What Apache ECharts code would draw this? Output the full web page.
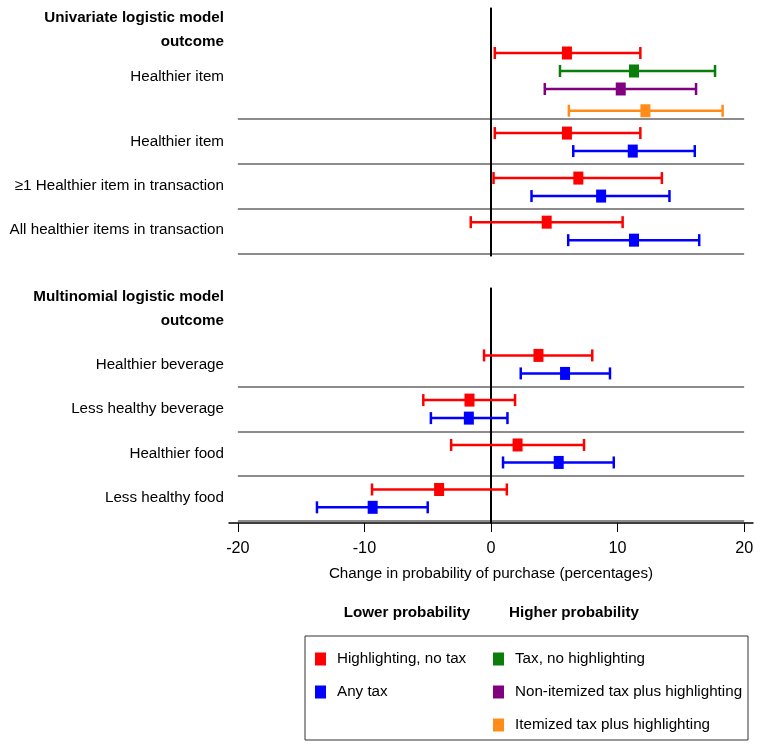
<!DOCTYPE html>
<html>
<head>
<meta charset="utf-8">
<script src="https://cdn.jsdelivr.net/npm/echarts@6/dist/echarts.min.js"></script>
<style>html,body{margin:0;padding:0;background:#fff}#c{width:762px;height:749px}</style>
</head>
<body>
<div id="c"></div>
<script>
// ---------- data ----------
// x-axis ticks
const xTicks = [-20, -10, 0, 10, 20];

// Top panel (univariate logistic model), row positions in row units (1 unit = one bar row)
const topLabels = ['Univariate logistic model\noutcome', 'Healthier item', 'Healthier item', '\u22651 Healthier item in transaction', 'All healthier items in transaction'];
const topLabelPos = [1.22, 3.83, 7.43, 9.87, 12.33];
const topSeparators = [6.18, 8.67, 11.15, 13.63];

const topRedPos = [2.5, 6.95, 9.45, 11.9];
const topRedEst = [6.0, 6.0, 6.9, 4.4];
const topRedLo = [0.3, 0.3, 0.2, -1.6];
const topRedHi = [11.8, 11.8, 13.5, 10.4];

const topBluePos = [7.95, 10.45, 12.9];
const topBlueEst = [11.2, 8.7, 11.3];
const topBlueLo = [6.5, 3.2, 6.1];
const topBlueHi = [16.1, 14.1, 16.45];

const greenPos = [3.5];
const greenEst = [11.3];
const greenLo = [5.45];
const greenHi = [17.7];

const purplePos = [4.5];
const purpleEst = [10.25];
const purpleLo = [4.25];
const purpleHi = [16.2];

const orangePos = [5.71];
const orangeEst = [12.2];
const orangeLo = [6.15];
const orangeHi = [18.3];

// Bottom panel (multinomial logistic model)
const botLabels = ['Multinomial logistic model\noutcome', 'Healthier beverage', 'Less healthy beverage', 'Healthier food', 'Less healthy food'];
const botLabelPos = [1.15, 4.28, 6.68, 9.18, 11.65];
const botSeparators = [5.48, 7.96, 10.44, 12.93];

const botRedPos = [3.74, 6.22, 8.71, 11.18];
const botRedEst = [3.75, -1.7, 2.1, -4.1];
const botRedLo = [-0.55, -5.35, -3.15, -9.4];
const botRedHi = [8.0, 1.9, 7.35, 1.25];

const botBluePos = [4.74, 7.22, 9.68, 12.17];
const botBlueEst = [5.85, -1.75, 5.35, -9.35];
const botBlueLo = [2.35, -4.75, 0.95, -13.75];
const botBlueHi = [9.4, 1.3, 9.7, -5.0];

const seriesNames = ['Highlighting, no tax', 'Any tax', 'Tax, no highlighting', 'Non-itemized tax plus highlighting', 'Itemized tax plus highlighting'];
const seriesColors = ['#ff0000', '#0000ff', '#0a7d0a', '#800080', '#ff8c1a'];

// ---------- chart ----------
const FONT = "'Liberation Sans', Arial, sans-serif";
const FS = 15.2;
const chart = echarts.init(document.getElementById('c'));

function rows(pos, est, lo, hi) {
  return pos.map((p, i) => [p, lo[i], est[i], hi[i]]);
}

function renderItem(params, api) {
  const y = api.value(0), lo = api.value(1), pt = api.value(2), hi = api.value(3);
  const a = api.coord([lo, y]), b = api.coord([hi, y]), c = api.coord([pt, y]);
  const color = api.visual('color');
  const ls = { stroke: color, lineWidth: 2.5 };
  return {
    type: 'group',
    children: [
      { type: 'line', shape: { x1: a[0], y1: a[1], x2: b[0], y2: b[1] }, style: ls },
      { type: 'line', shape: { x1: a[0], y1: a[1] - 6, x2: a[0], y2: a[1] + 6 }, style: ls },
      { type: 'line', shape: { x1: b[0], y1: b[1] - 6, x2: b[0], y2: b[1] + 6 }, style: ls },
      { type: 'rect', shape: { x: c[0] - 5, y: c[1] - 6.5, width: 10, height: 13 }, style: { fill: color } }
    ]
  };
}

function errSeries(name, color, grid, data) {
  return {
    type: 'custom', name: name, xAxisIndex: grid, yAxisIndex: grid,
    itemStyle: { color: color },
    renderItem: renderItem,
    encode: { x: [1, 2, 3], y: 0 },
    data: data, z: 5
  };
}

function refSeries(grid, seps) {
  const sepData = seps.map(s => [
    { coord: [xTicks[0], s], lineStyle: { color: '#8c8c8c', width: 2, type: 'solid' } },
    { coord: [xTicks[xTicks.length - 1], s] }
  ]);
  return {
    type: 'line', xAxisIndex: grid, yAxisIndex: grid, data: [], silent: true,
    markLine: {
      silent: true, symbol: 'none', animation: false,
      label: { show: false },
      data: sepData.concat([{ xAxis: 0, lineStyle: { color: '#000', width: 2, type: 'solid' } }])
    }
  };
}

function yAxisFor(grid, maxV, labels, labelPos) {
  return {
    type: 'value', gridIndex: grid, inverse: true, min: 0, max: maxV,
    axisLine: { show: true, lineStyle: { color: '#000', width: 1.5 } },
    axisTick: { show: false },
    splitLine: { show: false },
    axisLabel: {
      customValues: labelPos, margin: 5,
      color: '#000', fontFamily: FONT, fontSize: FS,
      formatter: function (v) {
        const i = labelPos.findIndex(p => Math.abs(p - v) < 1e-6);
        const t = i >= 0 ? labels[i] : '';
        if (t.indexOf('\n') >= 0) return t.split('\n').map(s => '{h|' + s + '}').join('\n');
        return t;
      },
      rich: { h: { fontWeight: 'bold', fontFamily: FONT, fontSize: FS, color: '#000', align: 'right', lineHeight: 23.5 } }
    }
  };
}

const option = {
  animation: false,
  backgroundColor: '#fff',
  grid: [
    { left: 229, width: 524, top: 8, height: 248, outerBoundsMode: 'none', containLabel: false },
    { left: 229, width: 524, top: 288, height: 235, outerBoundsMode: 'none', containLabel: false }
  ],
  xAxis: [
    { type: 'value', gridIndex: 0, min: -20.7, max: 20.7, show: false },
    {
      type: 'value', gridIndex: 1, min: -20.7, max: 20.7,
      axisLine: { show: true, onZero: false, lineStyle: { color: '#000', width: 1.5 } },
      axisTick: { show: true, customValues: xTicks, length: 9, lineStyle: { color: '#000', width: 1 } },
      axisLabel: { customValues: xTicks, margin: 18, color: '#000', fontFamily: FONT, fontSize: FS + 1 },
      splitLine: { show: false },
      name: 'Change in probability of purchase (percentages)',
      nameLocation: 'middle', nameGap: 43,
      nameTextStyle: { color: '#000', fontFamily: FONT, fontSize: FS }
    }
  ],
  yAxis: [
    yAxisFor(0, 13.78, topLabels, topLabelPos),
    yAxisFor(1, 13.04, botLabels, botLabelPos)
  ],
  legend: [
    {
      data: seriesNames.slice(0, 2), orient: 'vertical', left: 310, top: 646,
      itemWidth: 11, itemHeight: 13, itemGap: 17, icon: 'rect', selectedMode: false,
      textStyle: { color: '#000', fontFamily: FONT, fontSize: FS, lineHeight: 16, padding: [0, 0, 0, 6] }
    },
    {
      data: seriesNames.slice(2), orient: 'vertical', left: 488, top: 646,
      itemWidth: 11, itemHeight: 13, itemGap: 17, icon: 'rect', selectedMode: false,
      textStyle: { color: '#000', fontFamily: FONT, fontSize: FS, lineHeight: 16, padding: [0, 0, 0, 6] }
    }
  ],
  graphic: [
    { type: 'rect', shape: { x: 305, y: 636, width: 443, height: 104 }, style: { fill: 'none', stroke: '#333', lineWidth: 1 } },
    { type: 'text', x: 407, y: 613, style: { text: 'Lower probability', fill: '#000', font: 'bold ' + FS + 'px ' + FONT, textAlign: 'center', textVerticalAlign: 'middle' } },
    { type: 'text', x: 574, y: 613, style: { text: 'Higher probability', fill: '#000', font: 'bold ' + FS + 'px ' + FONT, textAlign: 'center', textVerticalAlign: 'middle' } }
  ],
  series: [
    refSeries(0, topSeparators),
    refSeries(1, botSeparators),
    errSeries(seriesNames[0], seriesColors[0], 0, rows(topRedPos, topRedEst, topRedLo, topRedHi)),
    errSeries(seriesNames[1], seriesColors[1], 0, rows(topBluePos, topBlueEst, topBlueLo, topBlueHi)),
    errSeries(seriesNames[2], seriesColors[2], 0, rows(greenPos, greenEst, greenLo, greenHi)),
    errSeries(seriesNames[3], seriesColors[3], 0, rows(purplePos, purpleEst, purpleLo, purpleHi)),
    errSeries(seriesNames[4], seriesColors[4], 0, rows(orangePos, orangeEst, orangeLo, orangeHi)),
    errSeries(seriesNames[0], seriesColors[0], 1, rows(botRedPos, botRedEst, botRedLo, botRedHi)),
    errSeries(seriesNames[1], seriesColors[1], 1, rows(botBluePos, botBlueEst, botBlueLo, botBlueHi))
  ]
};
chart.setOption(option);
</script>
</body>
</html>
